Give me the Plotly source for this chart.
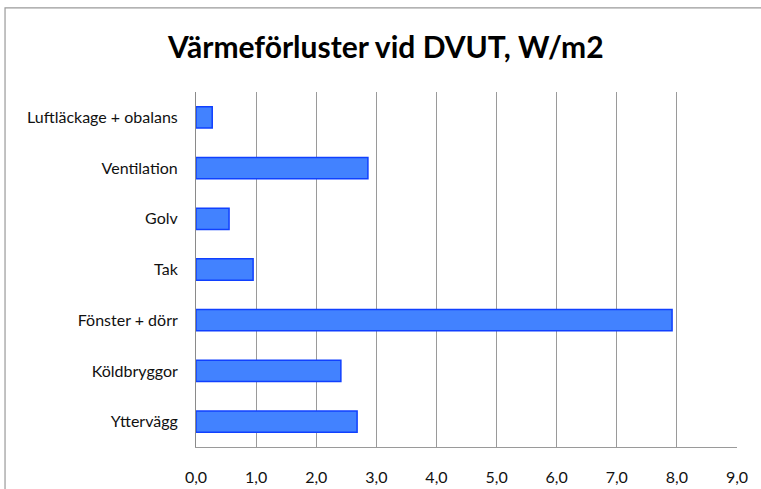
import plotly.graph_objects as go

# categories listed top to bottom, as in the chart
categories = ["Luftläckage + obalans", "Ventilation", "Golv", "Tak",
              "Fönster + dörr", "Köldbryggor", "Yttervägg"]
values = [0.27, 2.86, 0.55, 0.95, 7.92, 2.41, 2.68]
x_ticks = [0, 1, 2, 3, 4, 5, 6, 7, 8, 9]

fig = go.Figure(go.Bar(
    x=values,
    y=categories,
    orientation="h",
    marker=dict(color="#4282FF", line=dict(color="#1040FF", width=1.5)),
))

fig.update_layout(
    width=761, height=489,
    margin=dict(l=196, r=24, t=92, b=42, autoexpand=False),
    paper_bgcolor="white", plot_bgcolor="white",
    separators=", ",
    bargap=0.58,
    showlegend=False,
    font=dict(family="Lato", size=16, color="#111"),
    title=dict(text="<b>Värmeförluster vid DVUT, W/m2</b>",
               x=0.507, xanchor="center", y=0.902, yanchor="middle",
               font=dict(family="Lato", size=30, color="black")),
    # outer chart frame
    shapes=[dict(type="rect", xref="paper", yref="paper",
                 x0=-0.353, x1=1.07, y0=-0.14, y1=1.237,
                 line=dict(color="#9a9a9a", width=1.2), layer="below")],
)

fig.update_xaxes(range=[0, 9], tickvals=x_ticks, tickformat=".1f",
                 showgrid=True, gridcolor="#9a9a9a", gridwidth=1,
                 showline=True, linecolor="#9a9a9a", linewidth=1,
                 zeroline=False, ticks="", ticklabelstandoff=16,
                 automargin=False, tickfont=dict(size=16))
fig.update_yaxes(autorange="reversed", showgrid=False,
                 showline=True, linecolor="#8a8a8a", linewidth=1,
                 ticks="", ticklabelstandoff=14, automargin=False,
                 tickfont=dict(size=16))

# drop the browser's default body margin so the figure sits at the page corner
fig.write_html("out.html", config={"displayModeBar": False},
               post_script="document.body.style.margin='0';")
